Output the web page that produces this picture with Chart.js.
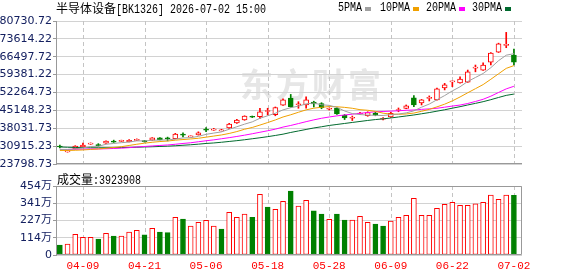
<!DOCTYPE html>
<html>
<head>
<meta charset="utf-8">
<script src="https://cdn.jsdelivr.net/npm/chart.js@4.4.0/dist/chart.umd.min.js"></script>
<style>
  html, body { margin: 0; padding: 0; background: #fff; }
  #wrap { position: relative; width: 578px; height: 276px; overflow: hidden; }
  .box { position: absolute; left: 0; width: 578px; }
  #priceBox { top: 0; height: 172px; }
  #volBox { top: 170px; height: 106px; }
  .txt { position: absolute; white-space: nowrap; font-size: 12px; line-height: 14px; color: #000; }
  .cjk { font-family: "Noto Sans CJK SC", sans-serif; }
  .mono { display: inline-block; font-family: "Liberation Mono", monospace; transform: scaleX(0.833); transform-origin: 0 50%; }
  .sq { position: absolute; top: 7px; width: 6px; height: 4px; }
</style>
</head>
<body>
<div id="wrap">
  <div class="box" id="priceBox"><canvas id="price" width="578" height="172"></canvas></div>
  <div class="box" id="volBox"><canvas id="vol" width="578" height="106"></canvas></div>

  <div class="txt" style="left:56px;top:1px"><span class="cjk">半导体设备</span><span class="mono">[BK1326] 2026-07-02 15:00</span></div>

  <div class="txt mono" style="left:338px;top:1px">5PMA</div>
  <div class="sq" style="left:365px;background:#a0a0a0"></div>
  <div class="txt mono" style="left:380px;top:1px">10PMA</div>
  <div class="sq" style="left:413px;background:#f0a000"></div>
  <div class="txt mono" style="left:426px;top:1px">20PMA</div>
  <div class="sq" style="left:459px;background:#ff00ff"></div>
  <div class="txt mono" style="left:472px;top:1px">30PMA</div>
  <div class="sq" style="left:505px;background:#006a2e"></div>

  <div class="txt" style="left:57px;top:172px"><span class="cjk">成交量</span><span class="mono">:3923908</span></div>
</div>

<script>
// trading days shown on the chart
const dates = ["04-03","04-07","04-08","04-09","04-10","04-13","04-14","04-15","04-16","04-17",
               "04-20","04-21","04-22","04-23","04-24","04-27","04-28","04-29","04-30","05-06",
               "05-07","05-08","05-11","05-12","05-13","05-14","05-15","05-18","05-19","05-20",
               "05-21","05-22","05-25","05-26","05-27","05-28","05-29","06-01","06-02","06-03",
               "06-04","06-05","06-08","06-09","06-10","06-11","06-12","06-15","06-16","06-17",
               "06-18","06-22","06-23","06-24","06-25","06-26","06-29","06-30","07-01","07-02"]
const xTickLabels = ["04-09","04-21","05-06","05-18","05-28","06-09","06-22","07-02"]

const opens  = [30981,28600,29787,30583,31700,31500,32100,32900,32800,32700,33200,33000,33300,34200,34000,33900,35500,34600,35400,37600,
                37300,37000,38145,40135,41300,42700,42600,44700,43400,47200,50000,47400,47300,48500,47900,45600,46000,43200,42000,43700,
                43000,44100,41600,42500,45100,45900,50100,48100,49900,49300,54100,56500,56100,56400,62000,61200,64300,68300,71000,67200]
const highs  = [31379,29100,31100,32175,32200,31900,33000,33300,33300,33500,33800,33200,34300,34300,34500,36000,36200,35000,36600,38300,
                38000,37600,40000,41600,43000,42900,46000,46000,46500,49700,51500,48600,50500,48800,48200,46100,46300,43500,42900,44400,
                44600,44400,42300,44400,46100,47300,51000,49500,50900,54000,55900,56800,58500,61200,63200,64100,68200,71900,76200,69600]
const lows   = [30185,28500,29700,30500,31600,30900,32000,32400,32700,32600,33100,32500,33200,33400,33000,33800,34600,34500,35300,36700,
                37200,36900,38000,40000,41200,42300,41900,43300,43000,47100,46400,46000,46000,46500,45800,45300,43500,41500,41100,43500,
                42800,43000,41300,42300,44600,45800,46600,47300,48900,49200,53300,54600,56000,56300,60500,61100,63200,68200,70100,63200]
const closes = [30583,29000,30981,31379,31900,31100,32971,32500,33000,33200,33400,32700,34200,33500,33800,35700,35300,34900,36200,37300,
                37700,37300,39737,41329,42900,42400,44600,44900,46300,49300,46600,47700,49300,47700,46200,45800,43700,42100,42300,44000,
                44300,43200,41800,44000,45400,47000,47300,49300,50100,53700,55300,56700,57600,60500,62300,63200,67995,71600,71300,64300]

const ma5  = [29588,29588,29787,30185,30782,30862,31658,31976,32294,32533,33011,32971,33250,33329,33369,33727,34165,34284,34802,35598,
              36115,36593,37628,38623,39657,40573,42006,43001,43996,45349,46224,46821,47737,48055,47379,47140,46344,44911,43876,43478,
              43279,43160,43120,43438,43677,44155,44951,46423,47657,49369,51040,52911,54543,56652,58244,59836,62144,64930,67119,67716]
const ma10 = [29190,29190,29270,29389,29588,29787,30066,30384,30702,31180,31658,32095,32454,32732,32931,33289,33528,33767,34046,34483,
              34921,35359,35956,36712,37628,38344,39299,40294,41329,42523,43399,44394,45349,46025,46384,46662,46583,46344,45986,45428,
              45190,44752,44035,43637,43598,43717,44075,44792,45548,46543,47617,48931,50483,52155,53786,55418,57528,59717,61866,62980]
const ma20 = [29588,29588,29668,29707,29787,29787,29867,29986,30105,30304,30583,30782,30981,31180,31379,31658,31976,32255,32653,33051,
              33409,33847,34284,34762,35279,35837,36434,37031,37667,38503,39140,39896,40652,41369,42006,42523,42961,43319,43637,43956,
              44314,44593,44712,44831,44991,45190,45309,45548,45747,45986,46423,46861,47259,47896,48692,49568,50801,52274,53707,54742]
const ma30 = [30583,30464,30384,30304,30265,30265,30265,30304,30344,30384,30464,30583,30663,30782,30901,31061,31260,31459,31697,31976,
              32175,32454,32772,33090,33449,33847,34245,34682,35160,35677,36354,36951,37548,38145,38623,39140,39538,39936,40334,40732,
              41130,41488,41767,42125,42523,42921,43319,43797,44274,44831,45389,46025,46622,47299,47936,48612,49408,50284,51120,51637]

// volume in 万
const volumes = [66,72,136,116,116,105,143,125,125,151,162,132,175,151,147,248,237,191,215,228,
                 191,171,281,248,270,248,399,316,301,353,421,322,360,290,270,235,270,230,230,255,
                 215,204,191,224,248,261,373,261,261,307,334,347,327,327,336,347,395,366,395,392.39]
const volDir  = ["d","u","u","u","u","d","u","d","u","u","u","d","u","d","d","u","d","u","u","u",
                 "u","d","u","u","u","d","u","d","u","u","d","u","u","d","d","u","d","d","u","u",
                 "u","d","d","u","u","u","u","u","u","u","u","u","u","u","u","u","u","u","u","d"]

const priceTicks    = [23798.73,30915.23,38031.73,45148.23,52264.73,59381.22,66497.72,73614.22,80730.72]
const volTicks      = [0,113.5,227,340.5,454]
const volTickLabels = ["0","114万","227万","341万","454万"]

const RED = "#ff0000", GREEN = "#008000"
const AXIS_FONT = "'DejaVu Sans', 'Noto Sans CJK SC', sans-serif"
const tickIdx = xTickLabels.map(d => dates.indexOf(d))
const xy = arr => arr.map((v, i) => ({ x: i, y: v }))

function xScale(showLabels) {
  return {
    type: "linear", min: -0.5, max: 60.05, offset: false,
    afterBuildTicks: s => { s.ticks = tickIdx.map(v => ({ value: v })) },
    afterFit: s => { s.height = showLabels ? 21 : 0 },
    grid: { display: false, drawTicks: false },
    border: { display: false },
    ticks: {
      display: showLabels, autoSkip: false, maxRotation: 0, padding: 4,
      color: RED, font: { family: "'Liberation Mono', monospace", size: 11 },
      callback: v => dates[v]
    }
  }
}

// dashed date lines, placed through the x scale
const dateLines = {
  id: "dateLines",
  beforeDatasetsDraw(chart) {
    const { top, bottom } = chart.chartArea
    const xs = chart.scales.x
    const c = chart.ctx
    c.save()
    c.strokeStyle = "#c4c4c4"
    c.lineWidth = 1
    c.setLineDash([4, 3])
    tickIdx.forEach(i => {
      const px = Math.round(xs.getPixelForValue(i)) + 0.5
      c.beginPath(); c.moveTo(px, top); c.lineTo(px, bottom); c.stroke()
    })
    c.restore()
  }
}

// faint site watermark behind the candles
const watermark = {
  id: "watermark",
  beforeDraw(chart) {
    const c = chart.ctx
    c.save()
    c.fillStyle = "#e6e6e6"
    c.font = "bold 33px 'Noto Sans CJK SC'"
    c.textBaseline = "middle"
    c.letterSpacing = "3px"
    c.fillText("东方财富", 240, 84)
    c.restore()
  }
}

const frame = {
  id: "frame",
  afterDraw(chart, args, opts) {
    const { left, top, right, bottom } = chart.chartArea
    const c = chart.ctx
    c.save()
    c.strokeStyle = "#999"
    c.lineWidth = 1
    c.beginPath()
    if (opts.box) {
      c.rect(left + 0.5, top + 0.5, right - left - 1, bottom - top - 1)
    } else {
      c.moveTo(left, bottom - 0.5); c.lineTo(right, bottom - 0.5)
    }
    c.stroke()
    c.restore()
  }
}

const base = {
  responsive: false,
  animation: false,
  devicePixelRatio: 1,
  events: []
}

new Chart(document.getElementById("price"), {
  type: "bar",
  data: {
    datasets: [
      { type: "line", data: xy(ma5),  borderColor: "#a0a0a0", borderWidth: 1, pointRadius: 0, order: 0 },
      { type: "line", data: xy(ma10), borderColor: "#f0a000", borderWidth: 1, pointRadius: 0, order: 0 },
      { type: "line", data: xy(ma20), borderColor: "#ff00ff", borderWidth: 1, pointRadius: 0, order: 0 },
      { type: "line", data: xy(ma30), borderColor: "#006a2e", borderWidth: 1, pointRadius: 0, order: 0 },
      {
        // candle bodies
        data: opens.map((o, i) => ({ x: i, y: [o, closes[i]] })),
        grouped: false, barThickness: 5, minBarLength: 1, borderWidth: 1, borderSkipped: false,
        backgroundColor: c => closes[c.dataIndex] >= opens[c.dataIndex] ? "#fff" : GREEN,
        borderColor:     c => closes[c.dataIndex] >= opens[c.dataIndex] ? RED : GREEN,
        order: 1
      },
      {
        // wicks
        data: lows.map((l, i) => ({ x: i, y: [l, highs[i]] })),
        grouped: false, barThickness: 1, borderWidth: 0,
        backgroundColor: c => closes[c.dataIndex] >= opens[c.dataIndex] ? RED : GREEN,
        order: 2
      }
    ]
  },
  options: {
    ...base,
    layout: { padding: { top: 21, bottom: 8, left: 0, right: 56 } },
    plugins: { legend: { display: false }, tooltip: { enabled: false }, frame: { box: false } },
    scales: {
      x: xScale(false),
      y: {
        min: priceTicks[0], max: priceTicks[priceTicks.length - 1],
        afterBuildTicks: s => { s.ticks = priceTicks.map(v => ({ value: v })) },
        afterFit: s => { s.width = 56 },
        grid: { color: "#d2d2d2", tickColor: "#999", tickLength: 3 },
        border: { color: "#999" },
        ticks: { color: "#142060", padding: 1, font: { family: AXIS_FONT, size: 11 }, callback: v => v.toFixed(2) }
      }
    }
  },
  plugins: [watermark, dateLines, frame]
})

new Chart(document.getElementById("vol"), {
  type: "bar",
  data: {
    datasets: [{
      data: xy(volumes),
      barThickness: 5, borderWidth: 1, borderSkipped: false,
      backgroundColor: c => volDir[c.dataIndex] === "u" ? "#fff" : GREEN,
      borderColor:     c => volDir[c.dataIndex] === "u" ? RED : GREEN
    }]
  },
  options: {
    ...base,
    layout: { padding: { top: 16, bottom: 0, left: 0, right: 56 } },
    plugins: { legend: { display: false }, tooltip: { enabled: false }, frame: { box: true } },
    scales: {
      x: xScale(true),
      y: {
        min: 0, max: volTicks[volTicks.length - 1],
        afterBuildTicks: s => { s.ticks = volTicks.map(v => ({ value: v })) },
        afterFit: s => { s.width = 56 },
        grid: { color: "#d2d2d2", tickColor: "#999", tickLength: 3 },
        border: { color: "#999" },
        ticks: { color: "#142060", padding: 1, font: { family: AXIS_FONT, size: 11 }, callback: (v, i) => volTickLabels[i] }
      }
    }
  },
  plugins: [dateLines, frame]
})
</script>
</body>
</html>
